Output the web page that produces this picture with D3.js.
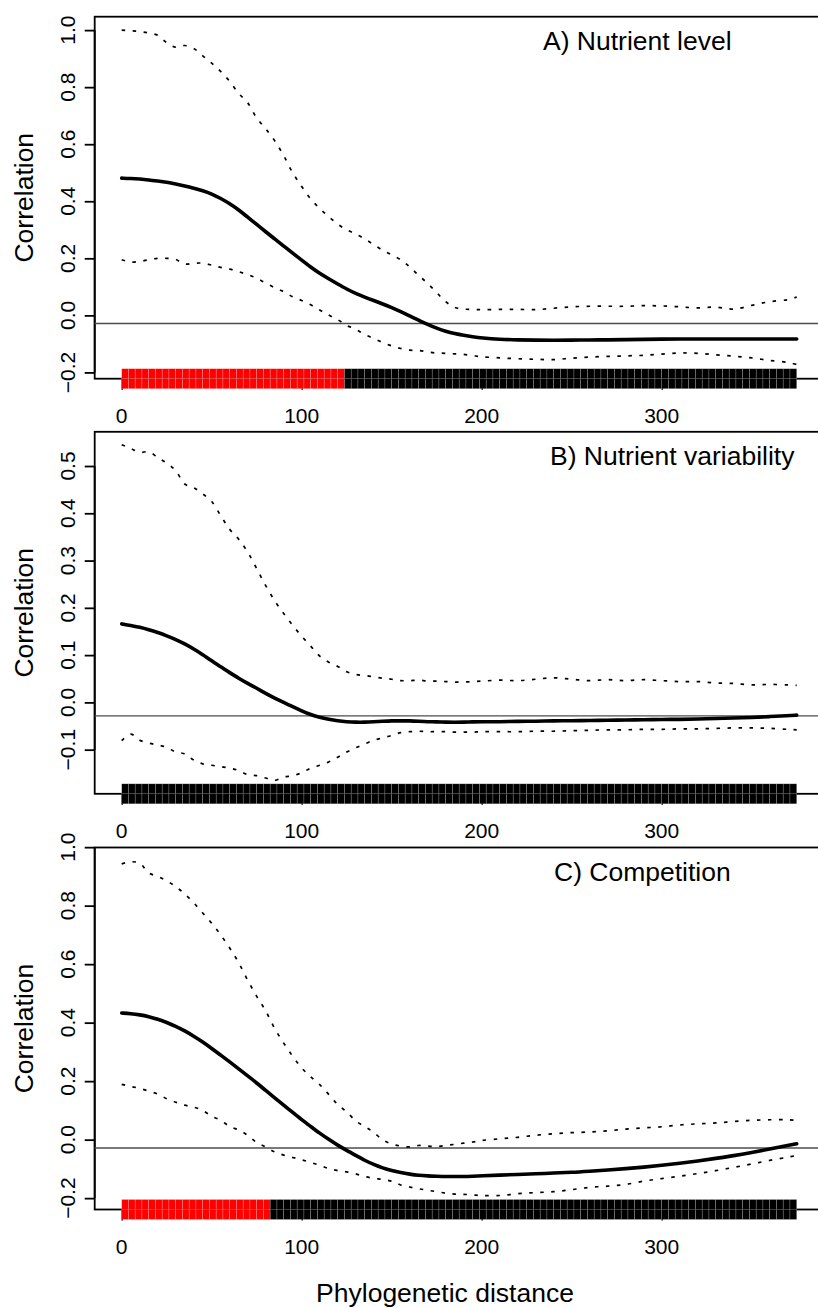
<!DOCTYPE html>
<html>
<head>
<meta charset="utf-8">
<script src="https://cdn.jsdelivr.net/npm/d3@7"></script>
<style>
  body { margin: 0; background: #fff; }
  svg { display: block; }
  text { font-family: "Liberation Sans", Arial, Helvetica, sans-serif; fill: #000; }
</style>
</head>
<body>
<svg id="chart" width="818" height="1308"></svg>
<script>
// Phylogenetic correlograms: correlation vs phylogenetic distance,
// with confidence envelope and a significance bar along the bottom.

const distance = [0,5,10,15,20,25,30,35,40,45,50,55,60,65,70,75,80,85,90,95,100,
  105,110,115,120,125,130,135,140,145,150,155,160,165,170,175,180,185,190,195,200,
  210,220,230,240,250,260,270,280,290,300,310,320,330,340,350,360,370,375];

// A) Nutrient level
const meanA = [.481,.480,.478,.475,.471,.467,.461,.454,.446,.437,.426,.410,.392,.370,.344,.319,.293,.268,.243,.218,.194,
  .169,.147,.128,.110,.092,.077,.064,.052,.040,.027,.013,-.002,-.017,-.032,-.045,-.056,-.064,-.070,-.075,-.079,
  -.084,-.086,-.087,-.087,-.087,-.086,-.086,-.085,-.084,-.083,-.083,-.083,-.083,-.083,-.083,-.083,-.083,-.083];
const upperA = [1.000,.998,.995,.990,.982,.956,.940,.946,.936,.910,.884,.855,.820,.778,.745,.692,.654,.612,.560,.500,.452,
  .408,.375,.346,.320,.300,.285,.268,.248,.228,.212,.195,.170,.140,.112,.080,.048,.028,.022,.021,.020,
  .021,.021,.020,.025,.030,.032,.032,.032,.034,.033,.030,.026,.029,.022,.035,.048,.055,.064];
const lowerA = [.195,.187,.189,.195,.200,.200,.196,.180,.183,.183,.176,.168,.162,.153,.143,.130,.113,.097,.083,.065,.052,
  .037,.019,.001,-.015,-.035,-.049,-.067,-.081,-.095,-.107,-.116,-.122,-.123,-.128,-.132,-.133,-.135,-.137,-.141,-.145,
  -.149,-.152,-.154,-.155,-.150,-.146,-.144,-.142,-.140,-.136,-.132,-.133,-.138,-.143,-.149,-.158,-.165,-.172];

// B) Nutrient variability
const meanB = [.166,.163,.159,.154,.148,.141,.133,.124,.113,.101,.088,.075,.063,.051,.040,.030,.019,.009,.000,-.009,-.018,
  -.026,-.032,-.036,-.039,-.041,-.042,-.042,-.041,-.040,-.039,-.039,-.039,-.040,-.041,-.041,-.042,-.042,-.042,-.041,-.041,
  -.041,-.040,-.040,-.039,-.039,-.038,-.038,-.037,-.037,-.036,-.036,-.035,-.034,-.033,-.032,-.030,-.028,-.027];
const upperB = [.545,.537,.529,.530,.518,.506,.490,.462,.454,.441,.425,.395,.366,.345,.318,.283,.247,.215,.188,.163,.140,
  .119,.098,.085,.076,.065,.059,.057,.054,.051,.049,.046,.046,.047,.045,.045,.044,.043,.043,.044,.045,
  .047,.046,.049,.052,.049,.046,.048,.046,.048,.046,.044,.044,.041,.040,.037,.038,.037,.036];
const lowerB = [-.081,-.067,-.080,-.086,-.090,-.095,-.105,-.109,-.122,-.130,-.133,-.136,-.139,-.144,-.153,-.155,-.160,-.165,-.158,-.155,-.149,
  -.139,-.133,-.126,-.116,-.105,-.096,-.088,-.080,-.075,-.070,-.064,-.062,-.061,-.062,-.062,-.062,-.063,-.063,-.063,-.062,
  -.062,-.062,-.061,-.061,-.060,-.059,-.058,-.058,-.057,-.057,-.056,-.056,-.055,-.054,-.054,-.055,-.057,-.058];

// C) Competition
const meanC = [.433,.431,.427,.421,.412,.401,.388,.372,.354,.334,.312,.289,.266,.242,.218,.194,.168,.143,.118,.093,.068,
  .045,.022,.001,-.019,-.037,-.054,-.071,-.085,-.097,-.106,-.113,-.118,-.122,-.124,-.125,-.126,-.126,-.126,-.125,-.124,
  -.121,-.119,-.117,-.114,-.112,-.108,-.104,-.099,-.094,-.088,-.081,-.073,-.064,-.055,-.044,-.032,-.020,-.014];
const upperC = [.943,.950,.945,.912,.900,.885,.865,.840,.810,.775,.740,.700,.655,.605,.545,.490,.440,.380,.330,.285,.245,
  .215,.188,.155,.120,.095,.064,.045,.025,-.001,-.015,-.022,-.025,-.020,-.022,-.024,-.020,-.016,-.012,-.008,-.003,
  .003,.008,.015,.020,.024,.026,.030,.036,.040,.044,.050,.054,.057,.062,.066,.068,.068,.066];
const lowerC = [.189,.182,.175,.166,.156,.140,.128,.118,.111,.100,.080,.066,.045,.033,.015,-.010,-.025,-.042,-.053,-.061,-.069,
  -.078,-.088,-.099,-.106,-.110,-.117,-.126,-.132,-.136,-.142,-.155,-.162,-.168,-.173,-.178,-.183,-.186,-.187,-.189,-.191,
  -.191,-.185,-.181,-.178,-.171,-.163,-.159,-.153,-.142,-.133,-.125,-.116,-.106,-.095,-.083,-.071,-.060,-.054];

// Significance along the distance classes (run lengths over 100 classes)
const signifRunsA = [["positive", 33], ["ns", 67]];
const signifRunsB = [["ns", 100]];
const signifRunsC = [["positive", 22], ["ns", 78]];
const classCount = 100;

const titles = ["A) Nutrient level", "B) Nutrient variability", "C) Competition"];
const yTicksA = [-0.2, 0.0, 0.2, 0.4, 0.6, 0.8, 1.0];
const yTicksB = [-0.1, 0.0, 0.1, 0.2, 0.3, 0.4, 0.5];
const yTicksC = [-0.2, 0.0, 0.2, 0.4, 0.6, 0.8, 1.0];
const xTicks = [0, 100, 200, 300];
const xLimits = [0, 375];
const yLimitsA = [-0.175, 1.0];
const yLimitsB = [-0.165, 0.544];
const yLimitsC = [-0.193, 0.953];
const nullCorrelation = -1 / 35;
const xLabel = "Phylogenetic distance";
const yLabel = "Correlation";

const panels = [
  { title: titles[0], mean: meanA, upper: upperA, lower: lowerA, runs: signifRunsA, ticks: yTicksA, ylim: yLimitsA },
  { title: titles[1], mean: meanB, upper: upperB, lower: lowerB, runs: signifRunsB, ticks: yTicksB, ylim: yLimitsB },
  { title: titles[2], mean: meanC, upper: upperC, lower: lowerC, runs: signifRunsC, ticks: yTicksC, ylim: yLimitsC }
];

const svg = d3.select("#chart");
const plotLeft = 94.7, plotRight = 823.7;
const panelTops = [16.7, 431.8, 847.5];
const panelHeight = 362;
const titleX = [543, 550, 554];
const signifColor = { positive: "#ff0000", negative: "#0000ff", ns: "#000000" };

// R-style 4% axis extension
const pad = (lim) => { const s = (lim[1] - lim[0]) * 0.04; return [lim[0] - s, lim[1] + s]; };

const x = d3.scaleLinear().domain(pad(xLimits)).range([plotLeft, plotRight]);
const fmt = d3.format(".1f");

panels.forEach((p, k) => {
  const top = panelTops[k], bottom = top + panelHeight;
  const y = d3.scaleLinear().domain(pad(p.ylim)).range([bottom, top]);
  const g = svg.append("g");

  // frame
  g.append("rect").attr("x", plotLeft).attr("y", top)
    .attr("width", plotRight - plotLeft).attr("height", panelHeight)
    .attr("fill", "none").attr("stroke", "#000").attr("stroke-width", 1.8);

  // y axis
  const ya = g.append("g").attr("transform", `translate(${plotLeft},0)`)
    .call(d3.axisLeft(y).tickValues(p.ticks).tickSize(10).tickPadding(0).tickFormat(() => ""));
  ya.select(".domain").attr("stroke-width", 1.8).attr("d", `M0,${y(p.ticks[0])}V${y(p.ticks[p.ticks.length - 1])}`);
  ya.selectAll(".tick line").attr("stroke-width", 1.8);
  g.selectAll(".ylab").data(p.ticks).join("text")
    .attr("transform", d => `translate(75,${y(d)}) rotate(-90)`)
    .attr("text-anchor", "middle").attr("font-size", 21)
    .text(d => fmt(d));

  // x axis (ticks largely hidden by the significance bar)
  const xa = g.append("g").attr("transform", `translate(0,${bottom})`)
    .call(d3.axisBottom(x).tickValues(xTicks).tickSize(11).tickFormat(() => ""));
  xa.select(".domain").remove();
  xa.selectAll(".tick line").attr("stroke-width", 1.5);
  g.selectAll(".xlab").data(xTicks).join("text")
    .attr("x", d => x(d)).attr("y", bottom + 44)
    .attr("text-anchor", "middle").attr("font-size", 21)
    .text(d => d);

  // null expectation
  g.append("line").attr("x1", plotLeft).attr("x2", plotRight)
    .attr("y1", y(nullCorrelation)).attr("y2", y(nullCorrelation))
    .attr("stroke", "#4d4d4d").attr("stroke-width", 1.4);

  const line = (vals, curve) => d3.line().x((d, i) => x(distance[i])).y(d => y(d)).curve(curve)(vals);

  [p.upper, p.lower].forEach(vals => {
    g.append("path").attr("d", line(vals, d3.curveCatmullRom)).attr("fill", "none")
      .attr("stroke", "#000").attr("stroke-width", 1.7).attr("stroke-dasharray", "3.5,7.5");
  });
  g.append("path").attr("d", line(p.mean, d3.curveBasis)).attr("fill", "none")
    .attr("stroke", "#000").attr("stroke-width", 3.6).attr("stroke-linecap", "round");

  // significance bar
  const classes = [];
  p.runs.forEach(([kind, n]) => { for (let j = 0; j < n; j++) classes.push(kind); });
  const w = (xLimits[1] - xLimits[0]) / classCount;
  const barH = 20;
  const cells = [];
  classes.forEach((kind, i) => {
    for (let r = 0; r < 2; r++) cells.push({ i, r, kind });
  });
  g.selectAll(".cell").data(cells).join("rect")
    .attr("x", d => x(xLimits[0] + d.i * w))
    .attr("width", d => x(xLimits[0] + (d.i + 1) * w) - x(xLimits[0] + d.i * w))
    .attr("y", d => bottom - barH / 2 + d.r * barH / 2)
    .attr("height", barH / 2)
    .attr("fill", d => signifColor[d.kind])
    .attr("stroke", "rgba(255,255,255,0.3)").attr("stroke-width", 0.6);

  // panel title
  g.append("text").attr("x", titleX[k]).attr("y", top + 33)
    .attr("font-size", 26.5).text(p.title);

  // y label
  g.append("text").attr("transform", `translate(33,${(top + bottom) / 2}) rotate(-90)`)
    .attr("text-anchor", "middle").attr("font-size", 26.5).text(yLabel);
});

svg.append("text").attr("x", 445).attr("y", 1301.5).attr("text-anchor", "middle")
  .attr("font-size", 26.5).text(xLabel);
</script>
</body>
</html>
